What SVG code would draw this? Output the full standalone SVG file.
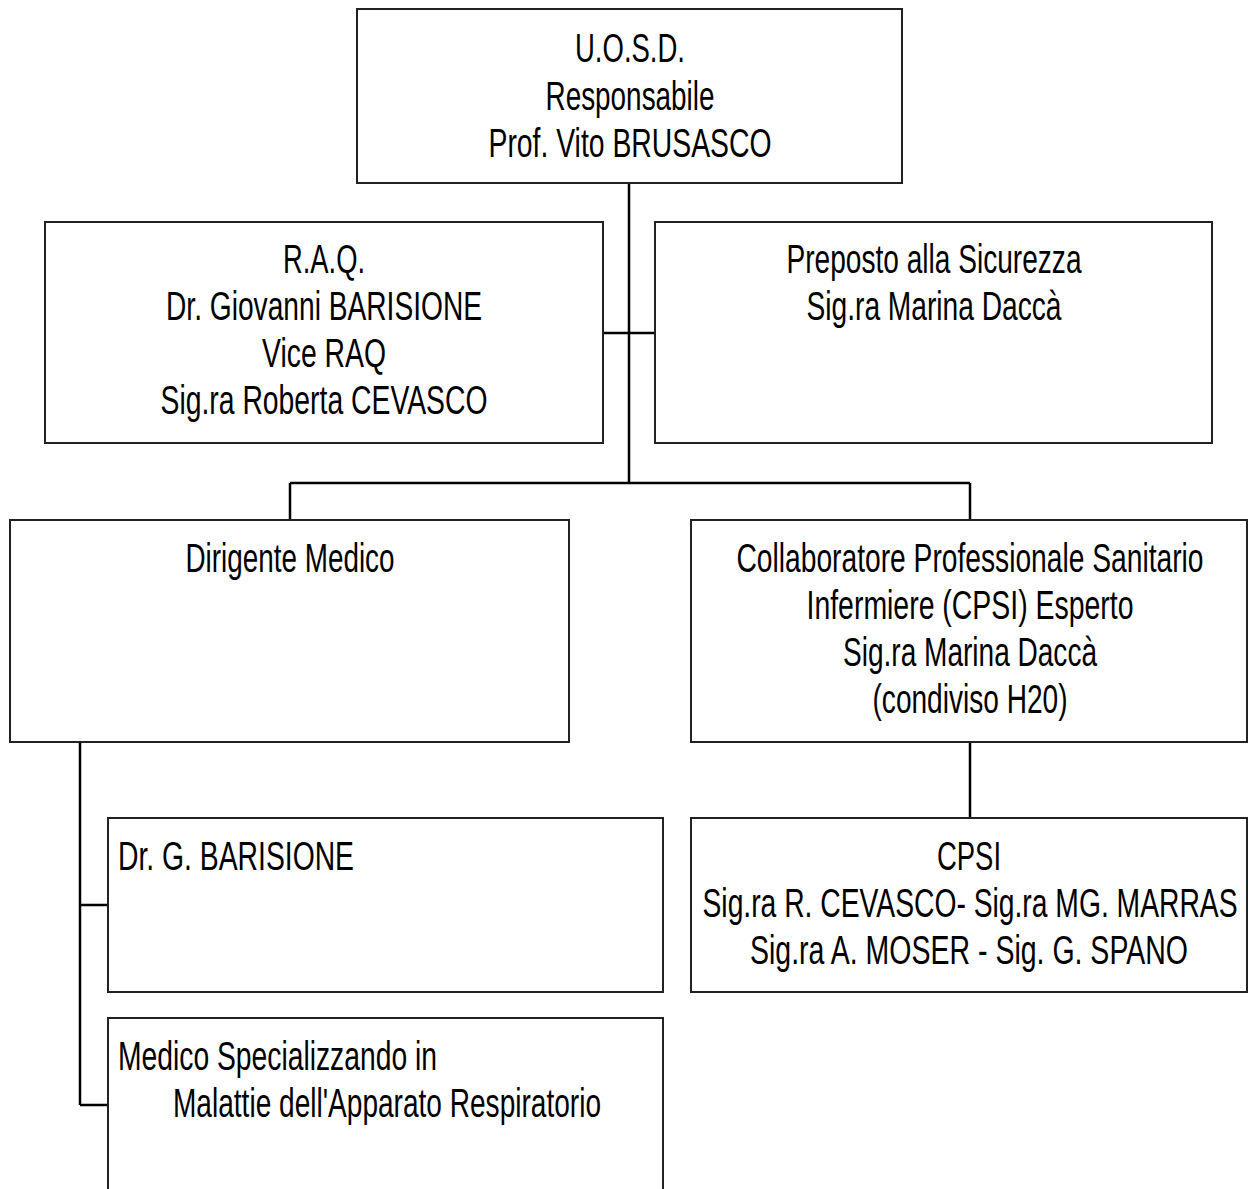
<svg xmlns="http://www.w3.org/2000/svg" width="1248" height="1189" viewBox="0 0 1248 1189">
<style>
.box{fill:#fff;stroke:#222;stroke-width:2}
.con{stroke:#000;stroke-width:2.5;fill:none}
text{font-family:"Liberation Sans",Arial,sans-serif;font-size:40px;fill:#000}
.c{text-anchor:middle}
</style>
<rect width="1248" height="1189" fill="#fff"/>
<g id="connectors">
<path class="con" d="M629 183V483M603 333H655M290 483H970M290 483V520M970 483V520M970 742V818M80 742V1105M80 905H108M80 1105H108"/>
</g>
<g id="n-uosd">
<rect class="box" x="357" y="9" width="545" height="174"/>
<text class="c" x="630" y="62" textLength="110" lengthAdjust="spacingAndGlyphs">U.O.S.D.</text>
<text class="c" x="630" y="110" textLength="169" lengthAdjust="spacingAndGlyphs">Responsabile</text>
<text class="c" x="630" y="157" textLength="283" lengthAdjust="spacingAndGlyphs">Prof. Vito BRUSASCO</text>
</g>
<g id="n-raq">
<rect class="box" x="45" y="222" width="558" height="221"/>
<text class="c" x="324" y="273" textLength="82" lengthAdjust="spacingAndGlyphs">R.A.Q.</text>
<text class="c" x="324" y="320" textLength="316" lengthAdjust="spacingAndGlyphs">Dr. Giovanni BARISIONE</text>
<text class="c" x="324" y="367" textLength="124" lengthAdjust="spacingAndGlyphs">Vice RAQ</text>
<text class="c" x="324" y="414" textLength="327" lengthAdjust="spacingAndGlyphs">Sig.ra Roberta CEVASCO</text>
</g>
<g id="n-preposto">
<rect class="box" x="655" y="222" width="557" height="221"/>
<text class="c" x="934" y="273" textLength="295" lengthAdjust="spacingAndGlyphs">Preposto alla Sicurezza</text>
<text class="c" x="934" y="320" textLength="255" lengthAdjust="spacingAndGlyphs">Sig.ra Marina Daccà</text>
</g>
<g id="n-dirigente">
<rect class="box" x="10" y="520" width="559" height="222"/>
<text class="c" x="290" y="572" textLength="209" lengthAdjust="spacingAndGlyphs">Dirigente Medico</text>
</g>
<g id="n-collaboratore">
<rect class="box" x="691" y="520" width="556" height="222"/>
<text class="c" x="970" y="572" textLength="467" lengthAdjust="spacingAndGlyphs">Collaboratore Professionale Sanitario</text>
<text class="c" x="970" y="619" textLength="327" lengthAdjust="spacingAndGlyphs">Infermiere (CPSI) Esperto</text>
<text class="c" x="970" y="666" textLength="254" lengthAdjust="spacingAndGlyphs">Sig.ra Marina Daccà</text>
<text class="c" x="970" y="713" textLength="195" lengthAdjust="spacingAndGlyphs">(condiviso H20)</text>
</g>
<g id="n-cpsi">
<rect class="box" x="691" y="818" width="556" height="174"/>
<text class="c" x="969" y="870" textLength="64" lengthAdjust="spacingAndGlyphs">CPSI</text>
<text class="c" x="970" y="917" textLength="535" lengthAdjust="spacingAndGlyphs">Sig.ra R. CEVASCO- Sig.ra MG. MARRAS</text>
<text class="c" x="969" y="964" textLength="438" lengthAdjust="spacingAndGlyphs">Sig.ra A. MOSER - Sig. G. SPANO</text>
</g>
<g id="n-barisione">
<rect class="box" x="108" y="818" width="555" height="174"/>
<text x="118" y="870" textLength="236" lengthAdjust="spacingAndGlyphs">Dr. G. BARISIONE</text>
</g>
<g id="n-specializzando">
<rect class="box" x="108" y="1018" width="555" height="200"/>
<text x="118" y="1070" textLength="319" lengthAdjust="spacingAndGlyphs">Medico Specializzando in</text>
<text x="173" y="1117" textLength="428" lengthAdjust="spacingAndGlyphs">Malattie dell'Apparato Respiratorio</text>
</g>
</svg>
